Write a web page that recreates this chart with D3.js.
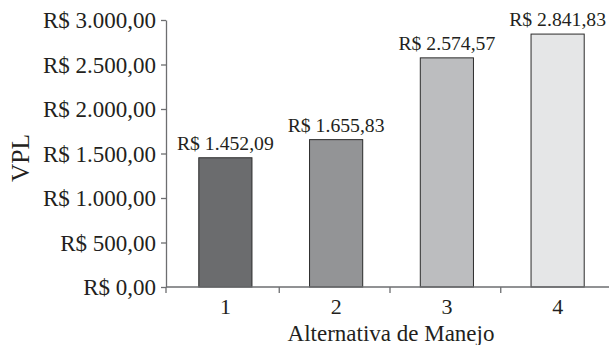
<!DOCTYPE html>
<html>
<head>
<meta charset="utf-8">
<script src="https://cdn.jsdelivr.net/npm/d3@7/dist/d3.min.js"></script>
<style>
  html, body { margin: 0; padding: 0; background: #fff; }
  svg { display: block; }
  text { font-family: "Liberation Serif", Tinos, "Times New Roman", Times, "Nimbus Roman", "DejaVu Serif", serif; fill: #231f20; }
</style>
</head>
<body>
<svg id="chart" width="609" height="345"></svg>
<script>
// Net present value (VPL) for each management alternative
const categories = ["1", "2", "3", "4"];
const values = [1452.09, 1655.83, 2574.57, 2841.83];
const barColors = ["#6b6c6e", "#939496", "#bcbdbf", "#e5e6e7"];
const yTicks = [0, 500, 1000, 1500, 2000, 2500, 3000];
const yTitle = "VPL";
const xTitle = "Alternativa de Manejo";

const fmt = v => "R$ " + v.toLocaleString("pt-BR", { minimumFractionDigits: 2, maximumFractionDigits: 2 });

const svg = d3.select("#chart");
const axisLeftX = 166, baseY = 287, topY = 20, axisRight = 609;

const y = d3.scaleLinear().domain([0, 3000]).range([baseY, topY]);
const x = d3.scaleBand().domain(categories).range([170, 613]).paddingInner(0).paddingOuter(0);
const barW = x.step() * 0.48;

// bars
svg.append("g").selectAll("rect").data(values).join("rect")
  .attr("x", (d, i) => x(categories[i]) + (x.step() - barW) / 2)
  .attr("y", d => y(d))
  .attr("width", barW)
  .attr("height", d => baseY - y(d))
  .attr("fill", (d, i) => barColors[i])
  .attr("stroke", "#2b2b2b")
  .attr("stroke-width", 1);

// value labels
svg.append("g").selectAll("text").data(values).join("text")
  .attr("x", (d, i) => x(categories[i]) + x.step() / 2)
  .attr("y", d => y(d) - 8)
  .attr("text-anchor", "middle")
  .style("font-size", "19.7px")
  .text(d => fmt(d));

// y axis
const yAxis = d3.axisLeft(y).tickValues(yTicks).tickSize(5).tickSizeOuter(0).tickFormat(d => fmt(d));
const gy = svg.append("g").attr("transform", `translate(${axisLeftX},0)`).call(yAxis);
gy.attr("font-family", null).attr("font-size", null);
gy.select(".domain").attr("stroke", "#6d6e70").attr("stroke-width", 1.3);
gy.selectAll(".tick line").attr("stroke", "#6d6e70").attr("stroke-width", 1.3);
gy.selectAll(".tick text").attr("x", -10).attr("dy", "0.33em")
  .style("font-size", "23px").attr("fill", "#231f20");

// x axis line and category separators
svg.append("line").attr("x1", axisLeftX).attr("x2", axisRight).attr("y1", baseY).attr("y2", baseY)
  .attr("stroke", "#6d6e70").attr("stroke-width", 1.3);
svg.append("g").selectAll("line").data(categories.slice(1)).join("line")
  .attr("x1", d => x(d) - 1.5).attr("x2", d => x(d) - 1.5)
  .attr("y1", baseY).attr("y2", baseY + 6)
  .attr("stroke", "#6d6e70").attr("stroke-width", 1.3);
svg.append("line").attr("x1", axisLeftX).attr("x2", axisLeftX).attr("y1", baseY).attr("y2", baseY + 6)
  .attr("stroke", "#6d6e70").attr("stroke-width", 1.3);

// category labels
svg.append("g").selectAll("text").data(categories).join("text")
  .attr("x", d => x(d) + x.step() / 2)
  .attr("y", 314)
  .attr("text-anchor", "middle")
  .style("font-size", "22px")
  .text(d => d);

// axis titles
svg.append("text").attr("x", 391).attr("y", 340.5).attr("text-anchor", "middle")
  .style("font-size", "23px").text(xTitle);
svg.append("text").attr("transform", "translate(29,158) rotate(-90)").attr("text-anchor", "middle")
  .style("font-size", "25.5px").text(yTitle);
</script>
</body>
</html>
